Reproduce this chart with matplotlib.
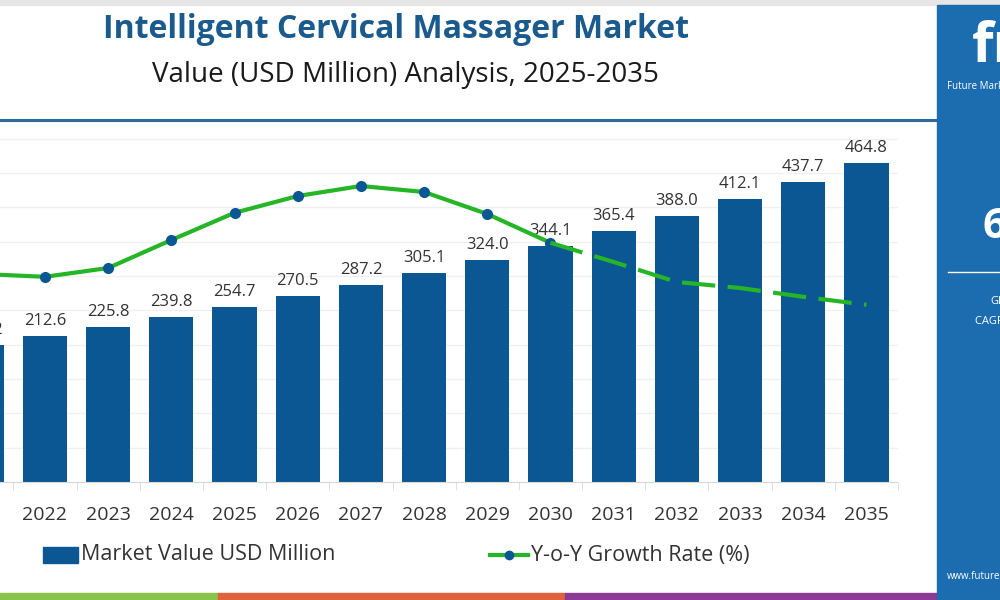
import numpy as np
import matplotlib.pyplot as plt
from matplotlib.patches import Rectangle
from matplotlib.lines import Line2D

plt.rcParams['font.family'] = ['Open Sans', 'DejaVu Sans']

years = ['2021', '2022', '2023', '2024', '2025', '2026', '2027', '2028',
         '2029', '2030', '2031', '2032', '2033', '2034', '2035']
market_value = [200.2, 212.6, 225.8, 239.8, 254.7, 270.5, 287.2, 305.1,
                324.0, 344.1, 365.4, 388.0, 412.1, 437.7, 464.8]
# y-o-y growth (no axis shown in the source)
growth_actual = [5.40, 5.33, 5.55, 6.25, 6.93, 7.35, 7.60, 7.45, 6.90, 6.18]
growth_forecast = [6.18, 5.70, 5.20, 5.05, 4.83, 4.63]

BAR = '#0b5794'
GREEN = '#26b526'
TITLE = '#1b5a8c'
PANEL = '#1b6db0'

fig = plt.figure(figsize=(10, 6), dpi=100)

# axes runs a bit past the left edge, like the cropped source
ax = fig.add_axes([-0.0498, 1 - 482 / 600, 0.9478, (482 - 125) / 600])
x = np.arange(len(years))
ax.bar(x, market_value, width=0.70, color=BAR, zorder=2)
for xi, v in zip(x, market_value):
    ax.annotate(f'{v:.1f}', (xi, v), xytext=(0, 5), textcoords='offset points',
                ha='center', va='bottom', fontsize=12, color='#333333')

ax.set_xlim(-0.5, len(years) - 0.5)
ax.set_ylim(0, 520)
ax.set_yticks(np.arange(0, 501, 50))
ax.yaxis.grid(True, color='#f0f0f0', lw=1)
ax.set_axisbelow(True)
ax.tick_params(axis='y', left=False, labelleft=False)
ax.set_xticks(x)
ax.set_xticklabels(years, fontsize=14, color='#333333')
ax.tick_params(axis='x', length=0, pad=17)
ax.set_xticks(np.arange(-0.5, len(years), 1), minor=True)
ax.tick_params(axis='x', which='minor', length=6, color='#d8d8d8')
for s in ['top', 'right', 'left']:
    ax.spines[s].set_visible(False)
ax.spines['bottom'].set_color('#d8d8d8')

ax2 = ax.twinx()
ax2.plot(x[:len(growth_actual)], growth_actual, color=GREEN, lw=3,
         marker='o', ms=7, mfc=BAR, mec=BAR, zorder=4)
ax2.plot(x[len(growth_actual) - 1:], growth_forecast, color=GREEN, lw=3,
         dashes=(8, 3), zorder=4)
ax2.set_ylim(0.2, 9.125)
ax2.axis('off')

# titles
fig.text(0.396, 1 - 30 / 600, 'Intelligent Cervical Massager Market',
         ha='center', va='center', fontsize=23, fontweight='bold', color=TITLE)
fig.text(0.405, 1 - 75 / 600, 'Value (USD Million) Analysis, 2025-2035',
         ha='center', va='center', fontsize=20, color='#1a1a1a')
fig.add_artist(Line2D([0, 0.935], [1 - 120 / 600] * 2, color='#2b6a9a', lw=2.2))

# legend
fig.add_artist(Rectangle((0.043, 1 - 563 / 600), 0.035, 16 / 600, color=BAR))
fig.text(0.081, 1 - 555 / 600, 'Market Value USD Million', ha='left',
         va='center', fontsize=15.5, color='#333333')
fig.add_artist(Line2D([0.490, 0.528], [1 - 555 / 600] * 2, color=GREEN, lw=3))
fig.add_artist(Line2D([0.509], [1 - 555 / 600], color=BAR, marker='o', ms=6, lw=0))
fig.text(0.531, 1 - 555 / 600, 'Y-o-Y Growth Rate (%)', ha='left',
         va='center', fontsize=15.5, color='#333333')

# frame decorations
fig.add_artist(Rectangle((0, 1 - 5 / 600), 1, 5 / 600, color='#e6e6e6'))
fig.add_artist(Rectangle((0, 0), 0.218, 7 / 600, color='#8bc34a'))
fig.add_artist(Rectangle((0.218, 0), 0.347, 7 / 600, color='#e0623a'))
fig.add_artist(Rectangle((0.565, 0), 0.372, 7 / 600, color='#8a3a94'))

# right side panel
fig.add_artist(Rectangle((0.937, 0), 0.063, 1 - 5 / 600, color=PANEL))
fig.text(0.972, 1 - 48 / 600, 'fmi', ha='left', va='center', fontsize=40,
         fontweight='bold', color='white')
fig.text(0.947, 1 - 86 / 600, 'Future Market Insights', ha='left', va='center',
         fontsize=7, color='white')
fig.text(0.983, 1 - 228 / 600, '6.2%', ha='left', va='center', fontsize=30,
         fontweight='bold', color='white')
fig.add_artist(Line2D([0.948, 1.0], [1 - 272 / 600] * 2, color='white', lw=1))
fig.text(0.990, 1 - 302 / 600, 'Global', ha='left', va='center', fontsize=8,
         color='white')
fig.text(0.975, 1 - 322 / 600, 'CAGR 2025-2035', ha='left', va='center',
         fontsize=8, color='white')
fig.text(0.947, 1 - 577 / 600, 'www.futuremarketinsights.com', ha='left',
         va='center', fontsize=7, color='white')

fig.savefig('out.png', dpi=100)
